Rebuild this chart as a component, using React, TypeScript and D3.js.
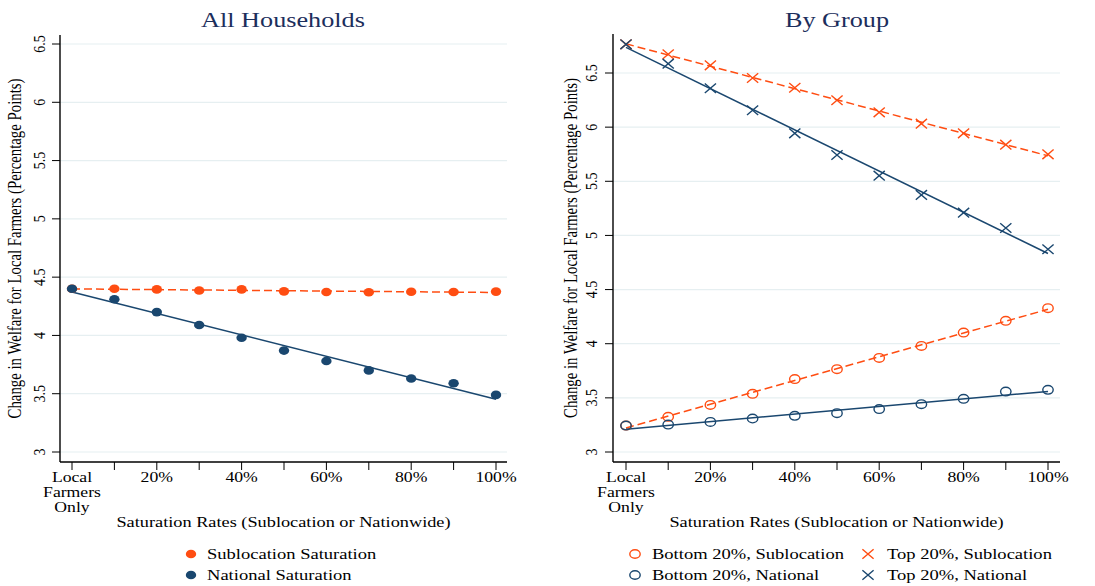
import React, { useEffect, useRef } from 'react';
import * as d3 from 'd3';

// Saturation rate (0 = local farmers only)
const saturation = [0, 10, 20, 30, 40, 50, 60, 70, 80, 90, 100];
const xTickLabels = ['Local\nFarmers\nOnly', '', '20%', '', '40%', '', '60%', '', '80%', '', '100%'];
const yTicks = [3, 3.5, 4, 4.5, 5, 5.5, 6, 6.5];

// All households
const allSublocation = [4.4, 4.4, 4.395, 4.385, 4.395, 4.378, 4.373, 4.371, 4.375, 4.373, 4.376];
const allNational = [4.4, 4.31, 4.2, 4.09, 3.98, 3.87, 3.78, 3.7, 3.63, 3.59, 3.49];

// By group
const bottomSublocation = [3.244, 3.325, 3.435, 3.537, 3.673, 3.765, 3.869, 3.98, 4.103, 4.211, 4.328];
const bottomNational = [3.244, 3.253, 3.278, 3.309, 3.334, 3.359, 3.396, 3.442, 3.491, 3.558, 3.574];
const topSublocation = [6.765, 6.673, 6.571, 6.454, 6.364, 6.248, 6.137, 6.032, 5.943, 5.838, 5.749];
const topNational = [6.765, 6.586, 6.359, 6.156, 5.943, 5.743, 5.552, 5.374, 5.21, 5.069, 4.872];

const NAVY = '#1a476f';
const ORANGE = '#ff4d12';
const TITLE_COLOR = '#1c2e5c';
const GRID = '#e6eff1';
const FONT = '"Liberation Serif", "Times New Roman", serif';
const STRETCH = 1.22;

type Marker = 'dot' | 'circle' | 'cross';

interface Series {
  name: string;
  values: number[];
  color: string;
  marker: Marker;
  dashed: boolean;
}

interface Panel {
  title: string;
  titleX: number;
  left: number;
  right: number;
  top: number;
  bottom: number;
  xRange: [number, number];
  yRange: [number, number];
  yTitleX: number;
  yLabelX: number;
  series: Series[];
  legend: { x: number; textX: number; row: number }[];
}

const panels: Panel[] = [
  {
    title: 'All Households',
    titleX: 283,
    left: 60,
    right: 507,
    top: 35,
    bottom: 462,
    xRange: [72, 496],
    yRange: [452, 44],
    yTitleX: 21,
    yLabelX: 45,
    series: [
      { name: 'Sublocation Saturation', values: allSublocation, color: ORANGE, marker: 'dot', dashed: true },
      { name: 'National Saturation', values: allNational, color: NAVY, marker: 'dot', dashed: false },
    ],
    legend: [
      { x: 191, textX: 207, row: 0 },
      { x: 191, textX: 207, row: 1 },
    ],
  },
  {
    title: 'By Group',
    titleX: 837,
    left: 613,
    right: 1060,
    top: 34,
    bottom: 462,
    xRange: [626, 1048],
    yRange: [452, 73],
    yTitleX: 577,
    yLabelX: 597,
    series: [
      { name: 'Bottom 20%, Sublocation', values: bottomSublocation, color: ORANGE, marker: 'circle', dashed: true },
      { name: 'Top 20%, Sublocation', values: topSublocation, color: ORANGE, marker: 'cross', dashed: true },
      { name: 'Bottom 20%, National', values: bottomNational, color: NAVY, marker: 'circle', dashed: false },
      { name: 'Top 20%, National', values: topNational, color: NAVY, marker: 'cross', dashed: false },
    ],
    legend: [
      { x: 635, textX: 652, row: 0 },
      { x: 868, textX: 887, row: 0 },
      { x: 635, textX: 652, row: 1 },
      { x: 868, textX: 887, row: 1 },
    ],
  },
];

type G = d3.Selection<SVGGElement, unknown, null, undefined>;

function addText(
  g: G,
  str: string,
  x: number,
  y: number,
  size: number,
  anchor = 'middle',
  color = '#000',
  rotate = false,
) {
  g.append('text')
    .attr(
      'transform',
      rotate
        ? `translate(${x},${y}) rotate(-90) scale(1,${STRETCH})`
        : `translate(${x},${y}) scale(${STRETCH},1)`,
    )
    .attr('text-anchor', anchor)
    .attr('fill', color)
    .style('font-family', FONT)
    .style('font-size', `${size}px`)
    .text(str);
}

function drawMarker(g: G, marker: Marker, cx: number, cy: number, color: string) {
  if (marker === 'dot') {
    g.append('ellipse').attr('cx', cx).attr('cy', cy).attr('rx', 5.2).attr('ry', 4.3).attr('fill', color);
  } else if (marker === 'circle') {
    g.append('ellipse')
      .attr('cx', cx)
      .attr('cy', cy)
      .attr('rx', 5.2)
      .attr('ry', 4.3)
      .attr('fill', 'none')
      .attr('stroke', color)
      .attr('stroke-width', 1.4);
  } else {
    const w = 5.6;
    const h = 4.8;
    g.append('path')
      .attr('d', `M${cx - w},${cy - h}L${cx + w},${cy + h}M${cx - w},${cy + h}L${cx + w},${cy - h}`)
      .attr('stroke', color)
      .attr('stroke-width', 1.4)
      .attr('fill', 'none');
  }
}

// Least-squares fit, as drawn by the fitted lines
function linearFit(xs: number[], ys: number[]) {
  const mx = d3.mean(xs) as number;
  const my = d3.mean(ys) as number;
  const sxy = d3.sum(xs, (x, i) => (x - mx) * (ys[i] - my));
  const sxx = d3.sum(xs, (x) => (x - mx) ** 2);
  const slope = sxy / sxx;
  return (x: number) => my + slope * (x - mx);
}

export default function App() {
  const svgRef = useRef<SVGSVGElement>(null);

  useEffect(() => {
    const svgEl = svgRef.current;
    if (!svgEl) return;
    const svg = d3.select(svgEl);
    svg.selectAll('*').remove();

    panels.forEach((p) => {
      const g = svg.append('g') as unknown as G;
      const x = d3.scaleLinear().domain([0, 100]).range(p.xRange);
      const y = d3.scaleLinear().domain([3, 6.5]).range(p.yRange);

      // Title
      addText(g, p.title, p.titleX, 27, 21.5, 'middle', TITLE_COLOR);

      // Grid lines
      g.selectAll('.grid')
        .data(yTicks)
        .enter()
        .append('line')
        .attr('x1', p.left)
        .attr('x2', p.right)
        .attr('y1', (d) => y(d))
        .attr('y2', (d) => y(d))
        .attr('stroke', GRID)
        .attr('stroke-width', 1.2);

      // Y ticks + labels
      yTicks.forEach((t) => {
        g.append('line')
          .attr('x1', p.left - 8)
          .attr('x2', p.left)
          .attr('y1', y(t))
          .attr('y2', y(t))
          .attr('stroke', '#000')
          .attr('stroke-width', 1);
        addText(g, String(t), p.yLabelX, y(t), 14, 'middle', '#000', true);
      });

      // X ticks + labels
      saturation.forEach((s, i) => {
        g.append('line')
          .attr('x1', x(s))
          .attr('x2', x(s))
          .attr('y1', p.bottom)
          .attr('y2', p.bottom + 8)
          .attr('stroke', '#000')
          .attr('stroke-width', 1);
        xTickLabels[i].split('\n').forEach((line, j) => {
          if (line) addText(g, line, x(s), p.bottom + 20 + j * 15, 14.5);
        });
      });

      // Axis lines
      g.append('line')
        .attr('x1', p.left)
        .attr('x2', p.left)
        .attr('y1', p.top)
        .attr('y2', p.bottom)
        .attr('stroke', '#000')
        .attr('stroke-width', 1.4);
      g.append('line')
        .attr('x1', p.left)
        .attr('x2', p.right)
        .attr('y1', p.bottom)
        .attr('y2', p.bottom)
        .attr('stroke', '#000')
        .attr('stroke-width', 1.4);

      // Axis titles
      addText(
        g,
        'Change in Welfare for Local Farmers (Percentage Points)',
        p.yTitleX,
        (p.top + p.bottom) / 2,
        14.8,
        'middle',
        '#000',
        true,
      );
      addText(g, 'Saturation Rates (Sublocation or Nationwide)', (p.left + p.right) / 2, p.bottom + 65, 15);

      // Fitted lines first, markers on top
      p.series.forEach((s) => {
        const f = linearFit(saturation, s.values);
        g.append('line')
          .attr('x1', x(0))
          .attr('x2', x(100))
          .attr('y1', y(f(0)))
          .attr('y2', y(f(100)))
          .attr('stroke', s.color)
          .attr('stroke-width', 1.5)
          .attr('stroke-dasharray', s.dashed ? '8,4' : null);
      });
      p.series.forEach((s) => {
        s.values.forEach((v, i) => drawMarker(g, s.marker, x(saturation[i]), y(v), s.color));
      });

      // Legend
      p.series.forEach((s, i) => {
        const l = p.legend[i];
        const cy = 554 + l.row * 21;
        drawMarker(g, s.marker, l.x, cy, s.color);
        addText(g, s.name, l.textX, cy + 5, 15.2, 'start');
      });
    });
  }, []);

  return (
    <svg
      ref={svgRef}
      width={1095}
      height={586}
      style={{ position: 'absolute', left: 0, top: 0, background: '#fff' }}
    />
  );
}
